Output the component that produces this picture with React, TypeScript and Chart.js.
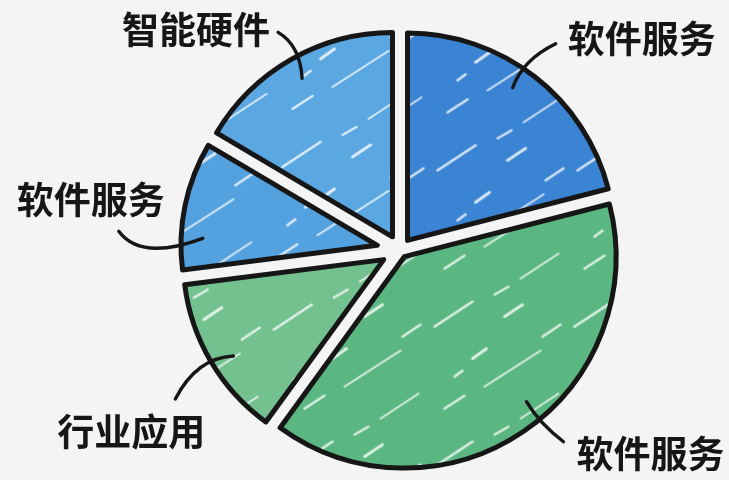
import React, { useEffect, useRef } from "react";
import { Chart, registerables } from "chart.js";

Chart.register(...registerables);

// ---- data (clockwise from 12 o'clock) ----
const categories = ["软件服务", "软件服务", "行业应用", "软件服务", "智能硬件"];
const shares = [21, 39, 13, 10.5, 16.5];
const sliceColors = ["#3b84d4", "#5bb782", "#74c190", "#54a1df", "#5aa7e2"];

// ---- label layout (relative to each leader's anchor point on its slice) ----
const labelAnchorFraction = [0.46, 0.46, 0.46, 0.28, 0.5];
const labelTextOffset = [[129, -49], [124, 52], [-102, 76], [-112, -38], [-106, -48]];
const leaderStart = [[43, -44], [37, 40], [-58, 43], [-84, -7], [-24, -46]];
const leaderCtrl = [[10, -28], [13, 22], [-37, 2], [-62, 23], [-2, -33]];

const GAP_HALF = 7.5;
const INK = "#161616";
const BG = "#f4f4f4";

const hatchStrokes: number[][] = [
  [10, 40, 48, 15, 2.6],
  [60, 100, 116, 64, 2],
  [80, 30, 98, 18, 2.8],
  [20, 122, 40, 109, 2.4],
  [96, 132, 134, 107, 1.8],
  [48, 72, 62, 62, 3],
  [118, 50, 136, 38, 2.4],
  [30, 90, 38, 84, 2.6],
  [70, 8, 84, 0, 2.2],
];

function makeHatch(base: string): CanvasPattern | string {
  const size = 140;
  const c = document.createElement("canvas");
  c.width = size;
  c.height = size;
  const g = c.getContext("2d");
  if (!g) return base;
  g.fillStyle = base;
  g.fillRect(0, 0, size, size);
  g.strokeStyle = "rgba(255,255,255,0.8)";
  g.lineCap = "round";
  for (const [x1, y1, x2, y2, w] of hatchStrokes) {
    for (const ox of [-size, 0, size]) {
      for (const oy of [-size, 0, size]) {
        g.lineWidth = w;
        g.beginPath();
        g.moveTo(x1 + ox, y1 + oy);
        g.lineTo(x2 + ox, y2 + oy);
        g.stroke();
      }
    }
  }
  const p = g.createPattern(c, "repeat");
  return p || base;
}

const gapPlugin = {
  id: "gapPie",
  beforeDatasetDraw(chart: any, args: any) {
    const ctx: CanvasRenderingContext2D = chart.ctx;
    const arcs = args.meta.data;
    arcs.forEach((arc: any) => {
      const a = arc.endAngle - arc.startAngle;
      const d = GAP_HALF / Math.sin(Math.min(a / 2, Math.PI / 2));
      const mid = (arc.startAngle + arc.endAngle) / 2;
      const r0 = arc.outerRadius;
      ctx.save();
      ctx.translate(Math.cos(mid) * d, Math.sin(mid) * d);
      arc.outerRadius = r0 - d;
      arc.draw(ctx);
      arc.outerRadius = r0;
      ctx.restore();
    });
    return false;
  },
};

const labelPlugin = {
  id: "leaderLabels",
  afterDatasetsDraw(chart: any) {
    const meta = chart.getDatasetMeta(0);
    const ctx: CanvasRenderingContext2D = chart.ctx;
    const labels = chart.data.labels as string[];
    ctx.save();
    ctx.font = 'bold 37px "Noto Sans CJK SC", "Noto Sans", sans-serif';
    ctx.fillStyle = INK;
    ctx.strokeStyle = INK;
    ctx.lineWidth = 3.4;
    ctx.lineCap = "round";
    ctx.textAlign = "center";
    ctx.textBaseline = "middle";
    meta.data.forEach((arc: any, i: number) => {
      const ang = arc.startAngle + (arc.endAngle - arc.startAngle) * labelAnchorFraction[i];
      const r = arc.outerRadius * 0.9;
      const ax = arc.x + Math.cos(ang) * r;
      const ay = arc.y + Math.sin(ang) * r;
      const [sx, sy] = leaderStart[i];
      const [cx, cy] = leaderCtrl[i];
      ctx.beginPath();
      ctx.moveTo(ax + sx, ay + sy);
      ctx.quadraticCurveTo(ax + cx, ay + cy, ax, ay);
      ctx.stroke();
      const [tx, ty] = labelTextOffset[i];
      ctx.fillText(labels[i], ax + tx, ay + ty);
    });
    ctx.restore();
  },
};

export default function App() {
  const ref = useRef<HTMLCanvasElement | null>(null);
  useEffect(() => {
    if (!ref.current) return;
    const chart = new Chart(ref.current, {
      type: "pie",
      data: {
        labels: categories,
        datasets: [
          {
            data: shares,
            backgroundColor: sliceColors.map((c) => makeHatch(c)) as any,
            borderColor: INK,
            borderWidth: 5,
            borderJoinStyle: "round",
            hoverOffset: 0,
          } as any,
        ],
      },
      options: {
        responsive: false,
        animation: false,
        events: [],
        layout: { padding: { top: 28, bottom: 8, left: 120, right: 49 } },
        plugins: {
          legend: { display: false },
          tooltip: { enabled: false },
        },
      },
      plugins: [gapPlugin, labelPlugin],
    });
    return () => chart.destroy();
  }, []);
  return (
    <div
      style={{
        position: "absolute",
        left: 0,
        top: 0,
        width: 729,
        height: 480,
        background: BG,
      }}
    >
      <canvas ref={ref} width={729} height={480} style={{ display: "block" }} />
    </div>
  );
}
